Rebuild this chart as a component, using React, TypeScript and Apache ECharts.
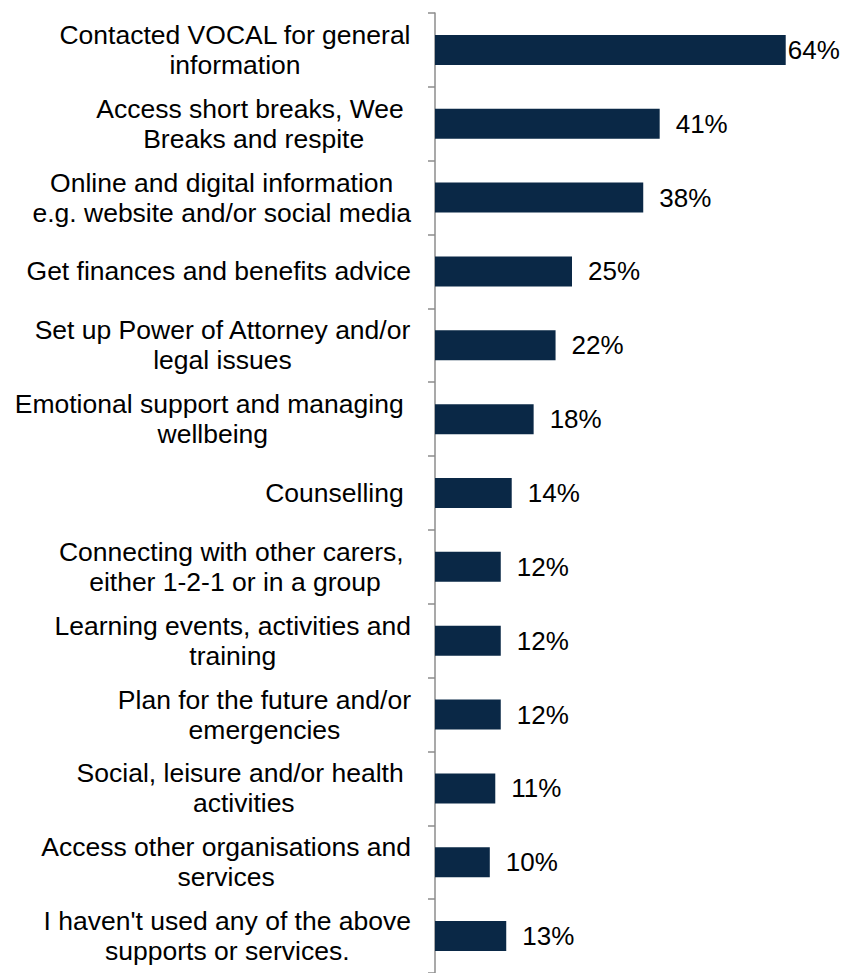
import React, { useEffect, useRef } from "react";
import * as echarts from "echarts";

const categories: string[] = [
  "Contacted VOCAL for general\ninformation",
  "Access short breaks, Wee \nBreaks and respite",
  "Online and digital information\ne.g. website and/or social media",
  "Get finances and benefits advice",
  "Set up Power of Attorney and/or\nlegal issues",
  "Emotional support and managing \nwellbeing",
  "Counselling ",
  "Connecting with other carers, \neither 1-2-1 or in a group",
  "Learning events, activities and\ntraining",
  "Plan for the future and/or\nemergencies",
  "Social, leisure and/or health \nactivities",
  "Access other organisations and\nservices",
  "I haven't used any of the above\nsupports or services.",
];

const values: number[] = [64, 41, 38, 25, 22, 18, 14, 12, 12, 12, 11, 10, 13];

const FONT = "'Liberation Sans', Arial, Helvetica, sans-serif";

export default function App() {
  const ref = useRef<HTMLDivElement>(null);

  useEffect(() => {
    document.body.style.margin = "0";
    if (!ref.current) return;
    const chart = echarts.init(ref.current, undefined, { renderer: "svg" });
    chart.setOption({
      animation: false,
      backgroundColor: "#ffffff",
      grid: { left: 435, top: 13, width: 383.6, height: 966, containLabel: false },
      xAxis: {
        type: "value",
        min: 0,
        max: 70,
        show: false,
        splitLine: { show: false },
      },
      yAxis: {
        type: "category",
        inverse: true,
        data: categories,
        axisLine: { show: true, lineStyle: { color: "#8c8c8c", width: 1.5 } },
        axisTick: { show: true, length: 7, lineStyle: { color: "#8c8c8c", width: 1.5 } },
        axisLabel: {
          margin: 24,
          align: "right",
          color: "#000000",
          fontFamily: FONT,
          fontSize: 26.5,
          lineHeight: 30,
          formatter: (v: string) =>
            v
              .split("\n")
              .map((l) => `{c|${l}}`)
              .join("\n"),
          rich: {
            c: {
              align: "center",
              fontFamily: FONT,
              fontSize: 26.5,
              lineHeight: 30,
              color: "#000000",
            },
          },
        },
      },
      series: [
        {
          type: "bar",
          barWidth: 30,
          itemStyle: { color: "#0a2846" },
          label: {
            show: true,
            position: "right",
            distance: 16,
            formatter: "{c}%",
            color: "#000000",
            fontFamily: FONT,
            fontSize: 26,
          },
          data: values.map((v, i) =>
            i === 0 ? { value: v, label: { distance: 2 } } : v
          ),
        },
      ],
    });
    return () => chart.dispose();
  }, []);

  return <div ref={ref} style={{ width: 843, height: 973 }} />;
}
